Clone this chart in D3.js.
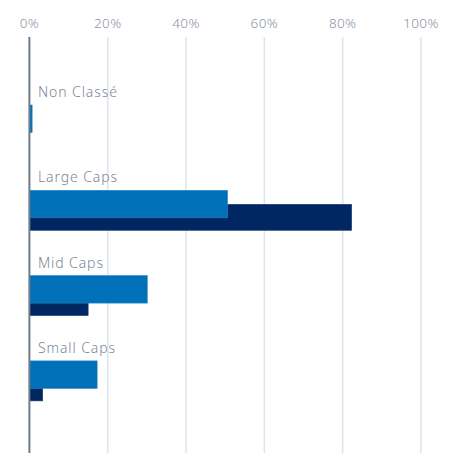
<!DOCTYPE html>
<html><head><meta charset="utf-8">
<script src="https://cdn.jsdelivr.net/npm/d3@7"></script>
<style>html,body{margin:0;padding:0;background:#fff;}svg{display:block;}</style>
</head><body>
<svg id="c" width="451" height="453"></svg>
<script>
const categories = ["Non Classé", "Large Caps", "Mid Caps", "Small Caps"];
const seriesFund = [0.7, 50.6, 30.1, 17.3];
const seriesIndex = [0, 82.3, 15.0, 3.4];
const tickValues = [0, 20, 40, 60, 80, 100];

const svg = d3.select("#c");
const font = "'Noto Sans', sans-serif";
const x = d3.scaleLinear().domain([0, 100]).range([29.4, 421]);
const y = d3.scaleBand().domain(categories).range([105, 105 + 4 * 85.3]).padding(0);

// grid
svg.append("g").selectAll("line").data(tickValues.slice(1)).join("line")
  .attr("x1", d => x(d)).attr("x2", d => x(d))
  .attr("y1", 37).attr("y2", 453)
  .attr("stroke", "#dde6ee").attr("stroke-width", 1.6);

// tick labels
svg.append("g").selectAll("text").data(tickValues).join("text")
  .attr("x", d => x(d)).attr("y", 28)
  .attr("text-anchor", "middle")
  .attr("font-family", font).attr("font-size", 13.5).attr("font-weight", 300)
  .attr("fill", "#8a94a2").attr("letter-spacing", 0.4)
  .text(d => d + "%");

// dark bars (behind)
svg.append("g").selectAll("rect").data(categories).join("rect")
  .attr("x", x(0)).attr("y", d => y(d) + 14)
  .attr("width", (d, i) => x(seriesIndex[i]) - x(0))
  .attr("height", 26)
  .attr("fill", "#002761").attr("stroke", "#1d3f75").attr("stroke-width", 0.6);

// light bars
svg.append("g").selectAll("rect").data(categories).join("rect")
  .attr("x", x(0)).attr("y", d => y(d))
  .attr("width", (d, i) => x(seriesFund[i]) - x(0))
  .attr("height", 27.5)
  .attr("fill", "#0070b9").attr("stroke", "#2b86c4").attr("stroke-width", 0.6);

// category labels
svg.append("g").selectAll("text").data(categories).join("text")
  .attr("x", 38).attr("y", d => y(d) - 8)
  .attr("font-family", font).attr("font-size", 14).attr("font-weight", 300)
  .attr("fill", "#7b8696").attr("letter-spacing", 0.9)
  .text(d => d);

// zero axis line
svg.append("line")
  .attr("x1", x(0)).attr("x2", x(0)).attr("y1", 37).attr("y2", 453)
  .attr("stroke", "#6e7c8b").attr("stroke-width", 2);
</script>
</body></html>
